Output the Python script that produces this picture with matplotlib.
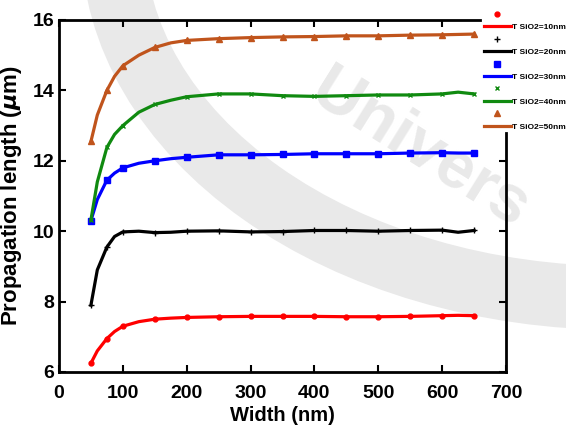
#!/usr/bin/env python3
import matplotlib
matplotlib.use("Agg")
import matplotlib.pyplot as plt
from matplotlib.lines import Line2D
from matplotlib.patches import Arc

plt.rcParams['font.family'] = ['Liberation Sans', 'DejaVu Sans']
plt.rcParams['font.weight'] = 'bold'

# width (nm)
width = [50, 60, 75, 87, 100, 125, 150, 175, 200, 250, 300, 350, 400, 450, 500, 550, 600, 625, 650]
# indices of the points that carry a marker
marked = [0, 2, 4, 6, 8, 9, 10, 11, 12, 13, 14, 15, 16, 18]

# propagation length (um) per SiO2 thickness
lp_10 = [6.25, 6.60, 6.95, 7.15, 7.30, 7.43, 7.50, 7.53, 7.55, 7.57, 7.58, 7.58, 7.58, 7.57, 7.57, 7.58, 7.60, 7.61, 7.60]
lp_20 = [7.90, 8.90, 9.55, 9.85, 9.98, 10.00, 9.96, 9.97, 10.00, 10.01, 9.98, 9.99, 10.02, 10.02, 10.00, 10.02, 10.03, 9.97, 10.02]
lp_30 = [10.30, 10.90, 11.45, 11.65, 11.80, 11.93, 12.00, 12.06, 12.10, 12.17, 12.17, 12.18, 12.20, 12.20, 12.20, 12.22, 12.23, 12.22, 12.22]
lp_40 = [10.32, 11.40, 12.38, 12.75, 13.00, 13.38, 13.60, 13.72, 13.82, 13.90, 13.90, 13.85, 13.83, 13.85, 13.87, 13.87, 13.90, 13.95, 13.90]
lp_50 = [12.55, 13.30, 14.00, 14.40, 14.70, 15.00, 15.22, 15.35, 15.42, 15.47, 15.50, 15.52, 15.53, 15.55, 15.55, 15.57, 15.58, 15.59, 15.60]

labels = ["T SiO2=10nm", "T SiO2=20nm", "T SiO2=30nm", "T SiO2=40nm", "T SiO2=50nm"]
series = [lp_10, lp_20, lp_30, lp_40, lp_50]
colors = ["#ff0000", "#000000", "#0000ff", "#108a10", "#c0541c"]
markers = ["o", "+", "s", "x", "^"]
msizes = [3.5, 5, 4, 3.5, 4.5]

fig = plt.figure(figsize=(5.66, 4.26), dpi=100)

# faint watermark in the background
bg = fig.add_axes([0, 0, 1, 1])
bg.set_xlim(0, 566)
bg.set_ylim(426, 0)
bg.axis("off")
bg.add_patch(Arc((620, -60), 2 * 507, 2 * 358, theta1=0, theta2=180,
                 color="#e9e9e9", lw=46))
bg.text(420, 150, "Univers", rotation=-32, fontsize=48, color="#e9e9e9",
        ha="center", va="center", fontweight="bold")

ax = fig.add_axes([59 / 566, 1 - 372 / 426, (506 - 59) / 566, (372 - 20) / 426])
ax.set_facecolor("none")

for ys, c, m, ms in zip(series, colors, markers, msizes):
    ax.plot(width, ys, color=c, lw=2.3, marker=m, ms=ms, mew=1,
            markevery=marked, solid_joinstyle="round")

ax.set_xlim(0, 700)
ax.set_ylim(6, 16)
ax.set_xticks(range(0, 701, 100))
ax.set_yticks(range(6, 17, 2))
ax.tick_params(direction="in", top=True, right=True, labelsize=14, width=1.5, length=5)
ax.tick_params(axis="x", pad=9)
for lab in ax.get_xticklabels() + ax.get_yticklabels():
    lab.set_fontweight("bold")
for sp in ax.spines.values():
    sp.set_linewidth(2)

# the legend sits over the top-right corner of the box
ax.spines["top"].set_bounds(0, 659)
ax.spines["right"].set_bounds(6, 12.8)
for tick in ax.yaxis.get_major_ticks():
    if tick.get_loc() > 12.8:
        tick.tick2line.set_visible(False)
for tick in ax.xaxis.get_major_ticks():
    if tick.get_loc() > 659:
        tick.tick2line.set_visible(False)

ax.set_xlabel("Width (nm)", fontsize=14.5, fontweight="bold", labelpad=3)
ax.set_ylabel("Propagation length ($\\mu$m)", fontsize=16, fontweight="bold", labelpad=6)

handles = []
names = []
for c, m, ms, lab in zip(colors, markers, msizes, labels):
    handles.append(Line2D([], [], color=c, lw=0, marker=m, ms=ms, mew=1))
    names.append(" ")
    handles.append(Line2D([], [], color=c, lw=2.3))
    names.append(lab)

leg = fig.legend(handles, names, loc="upper right", bbox_to_anchor=(1.005, 0.982),
                 fontsize=6, handlelength=3.2, handletextpad=0.1, labelspacing=0.55,
                 borderaxespad=0.0, borderpad=0.4, frameon=False)
for t in leg.get_texts():
    t.set_fontweight("bold")

plt.savefig("out.png", dpi=100)
